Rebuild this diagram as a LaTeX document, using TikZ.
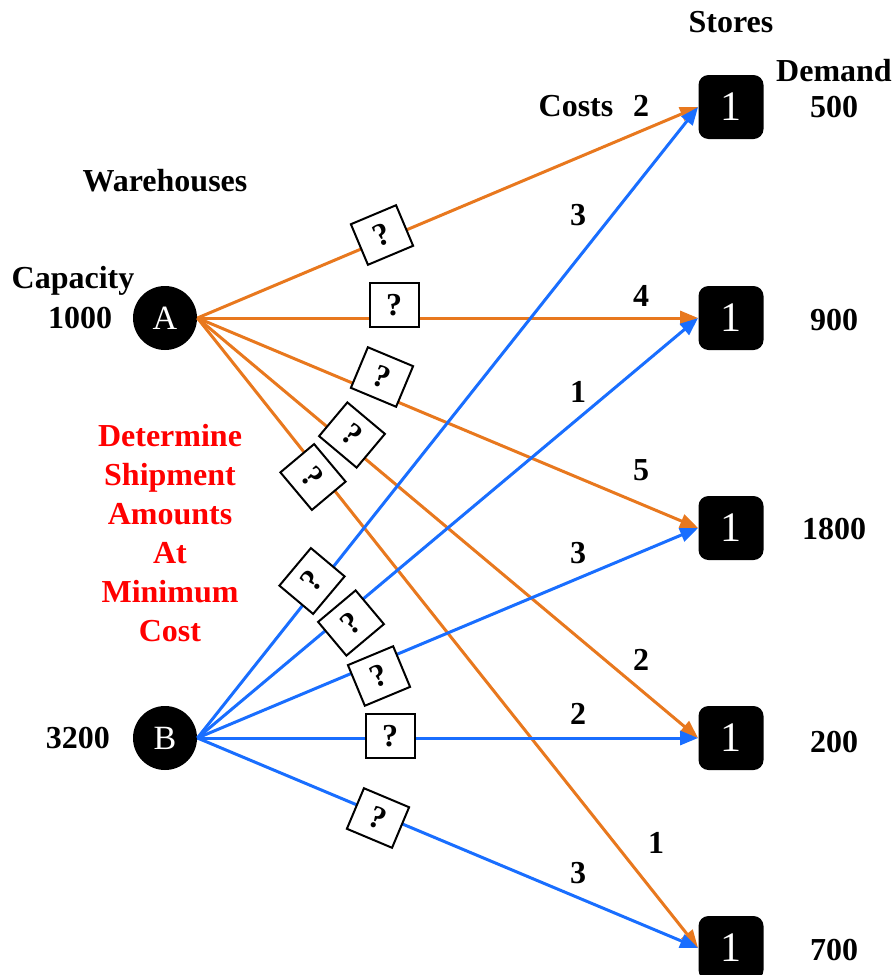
\documentclass[tikz,border=0pt]{standalone}
\usepackage{fontspec}
\setmainfont{Liberation Serif}
\usetikzlibrary{arrows.meta}
\definecolor{orng}{RGB}{232,120,30}
\definecolor{blu}{RGB}{25,110,255}
\definecolor{redtxt}{RGB}{255,0,0}
\begin{document}
\begin{tikzpicture}[x=0.5pt,y=-0.5pt,
 wh/.style={circle,fill=black,minimum size=32pt,inner sep=0pt,text=white,font=\fontsize{17}{20}\selectfont},
 st/.style={rectangle,rounded corners=5pt,fill=black,minimum width=32.5pt,minimum height=32pt,inner sep=0pt,text=white,font=\fontsize{21}{24}\selectfont},
 lbl/.style={font=\fontsize{16}{19}\selectfont\bfseries,inner sep=0pt},
 redlbl/.style={font=\fontsize{16}{19.5}\selectfont\bfseries,text=redtxt,align=center,inner sep=0pt},
 qbox/.style={draw=black,fill=white,line width=1pt,minimum width=24.5pt,minimum height=22pt,inner sep=0pt,font=\fontsize{16}{19}\selectfont\bfseries},
 oarr/.style={draw=orng,line width=1.5pt,-{Triangle[length=9pt,width=7pt]}},
 barr/.style={draw=blu,line width=1.5pt,-{Triangle[length=9pt,width=7pt]}},
]
\useasboundingbox (0,0) rectangle (893,975);

% nodes
\node[wh] (A) at (165,318) {A};
\node[wh] (B) at (165,738) {B};
\node[st] (s1) at (731,107) {1};
\node[st] (s2) at (731,318) {1};
\node[st] (s3) at (731,528) {1};
\node[st] (s4) at (731,738) {1};
\node[st] (s5) at (731,948) {1};

% labels
\node[lbl] (tstores) at (731,22) {Stores};
\node[lbl] (tdemand) at (834,71) {Demand};
\node[lbl] (d1) at (834,107) {500};
\node[lbl] (d2) at (834,320) {900};
\node[lbl] (d3) at (834,529) {1800};
\node[lbl] (d4) at (834,742) {200};
\node[lbl] (d5) at (834,950) {700};
\node[lbl] (tcosts) at (576,106) {Costs};
\node[lbl] (twh) at (165,181) {Warehouses};
\node[lbl] (tcap) at (73,281) {Capacity};
\node[lbl] (cA) at (80,318) {1000};
\node[lbl] (cB) at (78,738) {3200};
\node[redlbl] (goal) at (170,533) {Determine\\Shipment\\Amounts\\At\\Minimum\\Cost};

% cost labels
\node[lbl] (k1) at (641,106) {2};
\node[lbl] (k2) at (578,215) {3};
\node[lbl] (k3) at (641,296) {4};
\node[lbl] (k4) at (578,392) {1};
\node[lbl] (k5) at (641,470) {5};
\node[lbl] (k6) at (578,553) {3};
\node[lbl] (k7) at (641,660) {2};
\node[lbl] (k8) at (578,714) {2};
\node[lbl] (k9) at (656,843) {1};
\node[lbl] (k10) at (578,873) {3};

% arrows
\draw[oarr] (A.east) -- (s1.west);
\draw[oarr] (A.east) -- (s2.west);
\draw[oarr] (A.east) -- (s3.west);
\draw[oarr] (A.east) -- (s4.west);
\draw[oarr] (A.east) -- (s5.west);
\draw[barr] (B.east) -- (s1.west);
\draw[barr] (B.east) -- (s2.west);
\draw[barr] (B.east) -- (s3.west);
\draw[barr] (B.east) -- (s4.west);
\draw[barr] (B.east) -- (s5.west);

% question boxes (shipment amounts on each route)
\node[qbox,rotate=22.8] (q1) at (382,235) {?};
\node[qbox] (q2) at (394,305) {?};
\node[qbox,rotate=-22.7] (q3) at (382,377) {?};
\node[qbox,rotate=-40] (q4) at (352,435) {?};
\node[qbox,rotate=-50] (q5) at (313,477) {?};
\node[qbox,rotate=50] (q6) at (312,581) {?};
\node[qbox,rotate=40] (q7) at (351,623) {?};
\node[qbox,rotate=22.6] (q8) at (379,676) {?};
\node[qbox] (q9) at (390,736) {?};
\node[qbox,rotate=-22.8] (q10) at (378,818) {?};
\end{tikzpicture}
\end{document}
